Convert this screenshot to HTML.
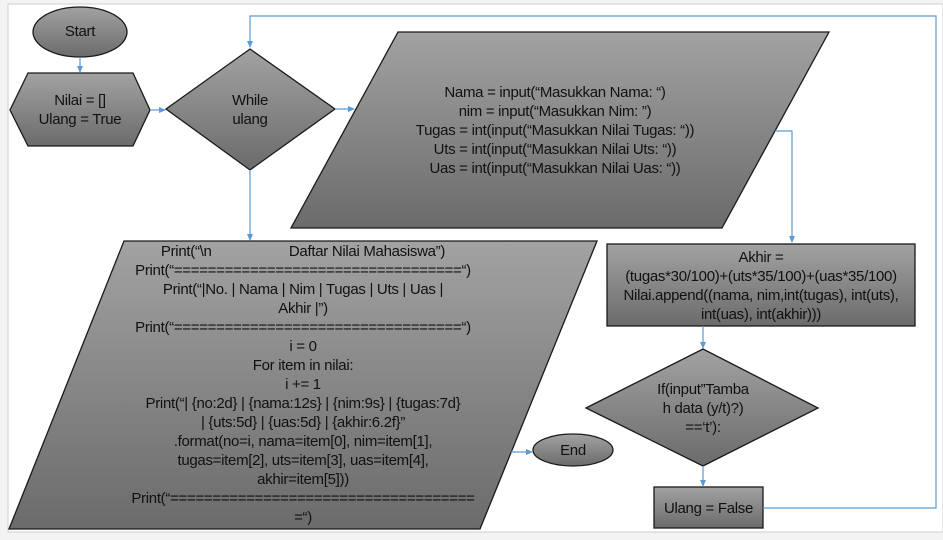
<!DOCTYPE html>
<html><head><meta charset="utf-8"><style>
html,body{margin:0;padding:0;background:#fff;}
body{width:943px;height:540px;overflow:hidden;position:relative;}
.t{position:absolute;font-family:"Liberation Sans",sans-serif;font-size:15px;color:#111;text-align:center;line-height:19px;white-space:nowrap;letter-spacing:-0.3px;}
</style></head><body>
<svg width="943" height="540" style="position:absolute;left:0;top:0">
<defs>
<linearGradient id="g" x1="0" y1="0" x2="0" y2="1"><stop offset="0" stop-color="#a2a2a2"/><stop offset="1" stop-color="#6b6b6b"/></linearGradient>
<marker id="a" markerWidth="8" markerHeight="8" refX="6" refY="4" orient="auto" markerUnits="userSpaceOnUse"><path d="M0,1 L7,4 L0,7 z" fill="#5b9bd5"/></marker>
</defs>
<rect x="0" y="0" width="943" height="540" fill="#f3f3f3"/>
<rect x="8" y="4" width="935" height="528" fill="#fff" stroke="#cfcfcf"/>
<g stroke="#1a1a1a" stroke-width="1.3" fill="url(#g)">
<ellipse cx="80" cy="32" rx="47" ry="25"/>
<polygon points="10,110 28,73 133,73 150,110 133,146 28,146"/>
<polygon points="166,109 250,49 335,109 250,170"/>
<polygon points="398,32 829,32 722,228 291,228"/>
<polygon points="124,241 597,241 480,529 9,529"/>
<ellipse cx="573" cy="450" rx="40" ry="16"/>
<rect x="607" y="244" width="308" height="82"/>
<polygon points="586,408 703,349 818,408 703,466"/>
<rect x="654" y="487" width="109" height="41"/>
</g>
<g stroke="#5b9bd5" stroke-width="1.2" fill="none">
<line x1="80" y1="57" x2="80" y2="72" marker-end="url(#a)"/>
<line x1="150" y1="110" x2="165" y2="110" marker-end="url(#a)"/>
<line x1="335" y1="109" x2="354" y2="109" marker-end="url(#a)"/>
<line x1="250" y1="170" x2="250" y2="240" marker-end="url(#a)"/>
<polyline points="763,508 936,508 936,16 250,16 250,47" marker-end="url(#a)"/>
<polyline points="775,131 792,131 792,242" marker-end="url(#a)"/>
<line x1="703" y1="326" x2="703" y2="348" marker-end="url(#a)"/>
<line x1="703" y1="466" x2="703" y2="486" marker-end="url(#a)"/>
<line x1="511" y1="452" x2="532" y2="452" marker-end="url(#a)"/>
</g>
</svg>
<div class="t" style="left:33px;top:22px;width:94px;">Start</div>
<div class="t" style="left:10px;top:91px;width:140px;">Nilai = []<br>Ulang = True</div>
<div class="t" style="left:166px;top:91px;width:168px;">While<br>ulang</div>
<div class="t" style="left:340px;top:83px;width:430px;">Nama = input(“Masukkan Nama: “)<br>nim = input(“Masukkan Nim: ”)<br>Tugas = int(input(“Masukkan Nilai Tugas: “))<br>Uts = int(input(“Masukkan Nilai Uts: “))<br>Uas = int(input(“Masukkan Nilai Uas: “))</div>
<div class="t" style="left:93px;top:242px;width:420px;">Print(“\n&nbsp;&nbsp;&nbsp;&nbsp;&nbsp;&nbsp;&nbsp;&nbsp;&nbsp;&nbsp;&nbsp;&nbsp;&nbsp;&nbsp;&nbsp;&nbsp;&nbsp;&nbsp;&nbsp;&nbsp;Daftar Nilai Mahasiswa”)<br>Print(“==================================“)<br>Print(“|No. | Nama | Nim | Tugas | Uts | Uas |<br>Akhir |”)<br>Print(“==================================“)<br>i = 0<br>For item in nilai:<br>i += 1<br>Print(“| {no:2d} | {nama:12s} | {nim:9s} | {tugas:7d}<br>| {uts:5d} | {uas:5d} | {akhir:6.2f}”<br>.format(no=i, nama=item[0], nim=item[1],<br>tugas=item[2], uts=item[3], uas=item[4],<br>akhir=item[5]))<br>Print(“====================================<br>=“)</div>
<div class="t" style="left:533px;top:441px;width:80px;">End</div>
<div class="t" style="left:607px;top:248px;width:308px;">Akhir =<br>(tugas*30/100)+(uts*35/100)+(uas*35/100)<br>Nilai.append((nama, nim,int(tugas), int(uts),<br>int(uas), int(akhir)))</div>
<div class="t" style="left:603px;top:380px;width:200px;">If(input”Tamba<br>h data (y/t)?)<br>==‘t’):</div>
<div class="t" style="left:654px;top:499px;width:109px;">Ulang = False</div>
</body></html>
